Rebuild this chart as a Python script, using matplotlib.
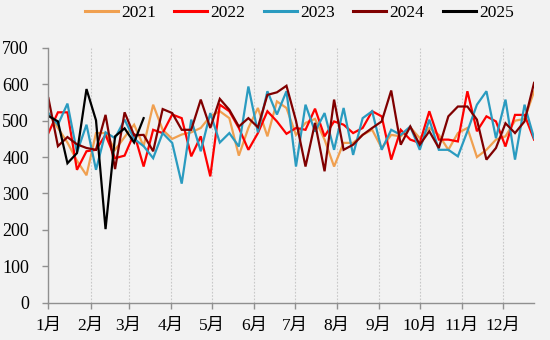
import matplotlib
matplotlib.use("Agg")
import matplotlib.pyplot as plt
import numpy as np

# ---- data (weekly values, week 0 = Jan 1) ----
s2021 = [521, 480, 440, 390, 350, 466, 466, 420, 455, 489, 430, 544, 475,
         450, 462, 468, 480, 512, 526, 507, 404, 480, 535, 457, 553, 535,
         461, 494, 505, 448, 374, 439, 439, 461, 475, 425, 461, 457, 482,
         452, 480, 461, 420, 466, 480, 400, 420, 448, 457, 500, 505, 580]
s2022 = [466, 523, 523, 365, 416, 420, 461, 397, 404, 465, 374, 475, 466,
         517, 507, 402, 457, 347, 544, 526, 480, 420, 466, 526, 498, 464,
         480, 475, 533, 457, 498, 489, 466, 480, 526, 512, 393, 475, 448,
         439, 526, 448, 448, 443, 581, 471, 512, 498, 429, 516, 516, 448]
s2023 = [521, 489, 547, 413, 489, 365, 468, 452, 503, 450, 430, 397, 466,
         439, 327, 503, 416, 521, 440, 466, 429, 594, 468, 581, 517, 581,
         374, 544, 470, 521, 420, 535, 406, 507, 526, 420, 475, 461, 484,
         420, 503, 420, 420, 402, 471, 544, 581, 452, 558, 393, 544, 452]
s2024 = [562, 430, 455, 435, 425, 420, 516, 367, 523, 460, 461, 416, 532,
         521, 475, 475, 558, 480, 560, 530, 484, 507, 482, 571, 578, 596,
         500, 374, 494, 361, 558, 420, 434, 461, 480, 498, 583, 434, 484,
         434, 471, 425, 512, 539, 539, 503, 393, 425, 493, 466, 498, 604]
s2025 = [513, 498, 383, 411, 587, 501, 202, 457, 479, 440, 507]

series_names = ["2021", "2022", "2023", "2024", "2025"]
series_values = [s2021, s2022, s2023, s2024, s2025]
series_colors = ["#F0A050", "#FF0000", "#2A9BC0", "#800000", "#000000"]

month_labels = ["1月", "2月", "3月", "4月", "5月", "6月",
                "7月", "8月", "9月", "10月", "11月", "12月"]
days_in_month = [31, 28, 31, 30, 31, 30, 31, 31, 30, 31, 30, 31]
y_ticks = [0, 100, 200, 300, 400, 500, 600, 700]

# ---- figure ----
bg = "#F2F2F2"
fig = plt.figure(figsize=(5.5, 3.4), dpi=100, facecolor=bg)
ax = fig.add_axes([0.088, 0.110, 0.883, 0.749], facecolor=bg)

font = ["Liberation Serif", "Noto Sans CJK SC"]

for name, vals, col in zip(series_names, series_values, series_colors):
    x = np.arange(len(vals))
    ax.plot(x, vals, color=col, lw=1.6, label=name, solid_joinstyle="miter")

month_pos = np.concatenate([[0], np.cumsum(days_in_month)[:-1]]) / 7.0
ax.set_xticks(month_pos)
ax.set_xticklabels(month_labels, fontfamily=font, fontsize=12.5)
ax.set_xlim(0, 51)
ax.set_ylim(0, 700)
ax.set_yticks(y_ticks)
ax.set_yticklabels([str(v) for v in y_ticks], fontfamily=font, fontsize=13)

for p in month_pos[1:]:
    ax.axvline(p, color="#C8C8C8", lw=0.8, ls=(0, (1.5, 1.5)), zorder=0)

for s in ["top", "right"]:
    ax.spines[s].set_visible(False)
for s in ["left", "bottom"]:
    ax.spines[s].set_color("#909090")
    ax.spines[s].set_linewidth(1.0)
ax.tick_params(axis="both", colors="#909090", length=4, width=1.0,
               labelcolor="#000000")
ax.tick_params(axis="x", pad=7)
ax.tick_params(axis="y", pad=10)

leg = fig.legend(loc="center", bbox_to_anchor=(0.544, 0.963), ncol=5,
                 frameon=False, handlelength=1.9, handletextpad=0.2,
                 columnspacing=1.05, prop={"family": font, "size": 12.5})
for h in leg.legend_handles:
    h.set_linewidth(2.2)

fig.savefig("out.png", dpi=100, facecolor=bg)
